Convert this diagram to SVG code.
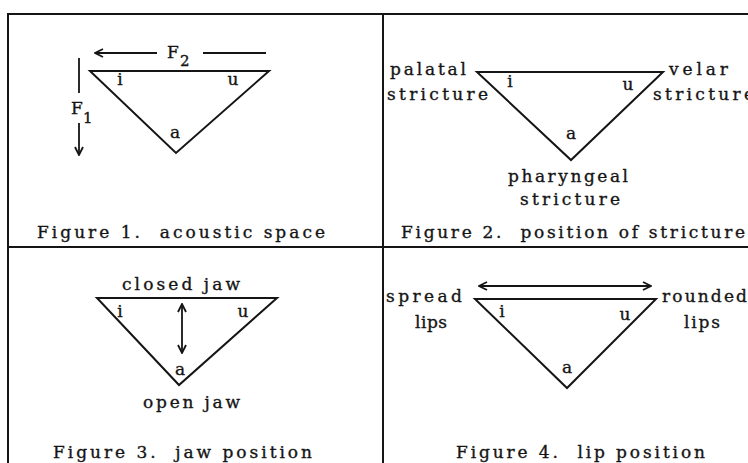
<svg xmlns="http://www.w3.org/2000/svg" width="748" height="463" viewBox="0 0 748 463">
<style>
text{font-family:"DejaVu Serif","Liberation Serif",serif;font-size:17px;fill:#151515;stroke:#151515;stroke-width:0.35px;}
.c{text-anchor:middle;}
.sub{font-size:15px;}
.frame{stroke:#151515;stroke-width:2;fill:none;}
.tri{stroke:#151515;stroke-width:2;fill:none;stroke-linejoin:miter;}
.arr{stroke:#151515;stroke-width:1.8;fill:none;}
</style>
<defs>
<marker id="ah" viewBox="0 0 10 10" refX="9" refY="5" markerWidth="10" markerHeight="10" markerUnits="userSpaceOnUse" orient="auto-start-reverse">
<path d="M1,1 L9,5 L1,9" fill="none" stroke="#151515" stroke-width="1.8"/>
</marker>
</defs>
<rect width="748" height="463" fill="#fff"/>
<g id="frame" class="frame">
<line x1="8" y1="14" x2="748" y2="14"/>
<line x1="8" y1="13" x2="8" y2="463"/>
<line x1="383" y1="14" x2="383" y2="463"/>
<line x1="8" y1="247" x2="748" y2="247"/>
</g>
<g id="fig1">
<polygon class="tri" points="90,71 269,71 176,153"/>
<text class="c" x="120" y="85">i</text>
<text class="c" x="233" y="85">u</text>
<text class="c" x="175" y="138">a</text>
<text x="167" y="58">F</text><text class="sub" x="180" y="66">2</text>
<text x="71" y="114">F</text><text class="sub" x="83" y="123">1</text>
<text x="37" y="238" xml:space="preserve" textLength="288" lengthAdjust="spacing">Figure 1.  acoustic space</text>
</g>
<g id="fig2">
<polygon class="tri" points="477,72 663,72 571,160"/>
<text class="c" x="510" y="87">i</text>
<text class="c" x="628" y="90">u</text>
<text class="c" x="571" y="139">a</text>
<text x="390" y="75" textLength="76" lengthAdjust="spacing">palatal</text>
<text x="387" y="100" textLength="101" lengthAdjust="spacing">stricture</text>
<text x="669" y="75" textLength="59" lengthAdjust="spacing">velar</text>
<text x="653" y="100" textLength="101" lengthAdjust="spacing">stricture</text>
<text x="508" y="182" textLength="120" lengthAdjust="spacing">pharyngeal</text>
<text x="520" y="205" textLength="100" lengthAdjust="spacing">stricture</text>
<text x="401" y="238" xml:space="preserve" style="letter-spacing:2.7px">Figure 2.  position of stricture</text>
</g>
<g id="fig3">
<polygon class="tri" points="97,298 277,298 179,385"/>
<text class="c" x="120" y="317">i</text>
<text class="c" x="243" y="317">u</text>
<text class="c" x="180" y="375">a</text>
<text x="122" y="290" textLength="118" lengthAdjust="spacing">closed jaw</text>
<text x="143" y="408" textLength="97" lengthAdjust="spacing">open jaw</text>
<text x="53" y="458" xml:space="preserve" textLength="259" lengthAdjust="spacing">Figure 3.  jaw position</text>
</g>
<g id="fig4">
<polygon class="tri" points="475,299 656,299 567,388"/>
<text class="c" x="502" y="317">i</text>
<text class="c" x="625" y="320">u</text>
<text class="c" x="567" y="373">a</text>
<text x="386" y="302" textLength="76" lengthAdjust="spacing">spread</text>
<text x="415" y="328" textLength="32" lengthAdjust="spacing">lips</text>
<text x="662" y="302" textLength="85" lengthAdjust="spacing">rounded</text>
<text x="684" y="328" textLength="36" lengthAdjust="spacing">lips</text>
<text x="456" y="458" xml:space="preserve" textLength="249" lengthAdjust="spacing">Figure 4.  lip position</text>
</g>
<g id="connectors" class="arr">
<line x1="157" y1="53" x2="95" y2="53" marker-end="url(#ah)"/>
<line x1="203" y1="53" x2="266" y2="53"/>
<line x1="79" y1="58" x2="79" y2="93"/>
<line x1="79" y1="123" x2="79" y2="155" marker-end="url(#ah)"/>
<line x1="182" y1="304" x2="182" y2="353" marker-start="url(#ah)" marker-end="url(#ah)"/>
<line x1="479" y1="286" x2="651" y2="286" marker-start="url(#ah)" marker-end="url(#ah)"/>
</g>
</svg>
